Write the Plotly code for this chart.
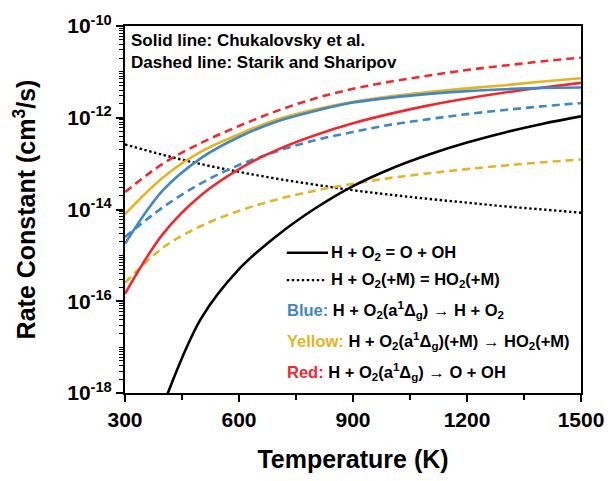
import plotly.graph_objects as go

# Temperature grid (K) for the reaction-rate curves
temperature = [300, 400, 500, 600, 700, 800, 900, 1000, 1100, 1200, 1300, 1400, 1500]
temperature_oh = [400, 500, 600, 700, 800, 900, 1000, 1100, 1200, 1300, 1400, 1500]

# Rate constants, cm^3/s
k_h_o2_o_oh = [5.25e-19, 4.17e-17, 5.01e-16, 2.69e-15, 1.05e-14, 3.24e-14,
               7.76e-14, 1.58e-13, 2.88e-13, 4.79e-13, 7.41e-13, 1.07e-12]
k_h_o2_ho2 = [2.63e-13, 1.55e-13, 9.77e-14, 6.61e-14, 4.68e-14, 3.47e-14, 2.63e-14,
              2.09e-14, 1.70e-14, 1.41e-14, 1.17e-14, 1.00e-14, 8.51e-15]

# Chukalovsky et al. (solid)
blue_solid = [1.78e-15, 2.63e-14, 1.32e-13, 3.80e-13, 8.32e-13, 1.41e-12, 2.14e-12,
              2.75e-12, 3.31e-12, 3.80e-12, 4.17e-12, 4.47e-12, 4.57e-12]
yellow_solid = [7.94e-15, 5.01e-14, 1.82e-13, 4.37e-13, 9.12e-13, 1.51e-12, 2.24e-12,
                2.95e-12, 3.63e-12, 4.37e-12, 5.13e-12, 6.17e-12, 7.24e-12]
red_solid = [1.45e-16, 2.95e-15, 2.04e-14, 7.59e-14, 2.00e-13, 4.17e-13, 7.59e-13,
             1.23e-12, 1.86e-12, 2.63e-12, 3.55e-12, 4.57e-12, 5.75e-12]

# Starik and Sharipov (dashed)
blue_dashed = [2.51e-15, 1.12e-14, 3.72e-14, 9.33e-14, 1.86e-13, 3.24e-13, 4.90e-13,
               7.08e-13, 9.33e-13, 1.20e-12, 1.48e-12, 1.78e-12, 2.09e-12]
yellow_dashed = [2.51e-16, 1.48e-15, 4.37e-15, 9.33e-15, 1.66e-14, 2.57e-14, 3.63e-14,
                 4.90e-14, 6.17e-14, 7.59e-14, 9.12e-14, 1.07e-13, 1.23e-13]
red_dashed = [2.40e-14, 1.00e-13, 2.82e-13, 6.61e-13, 1.41e-12, 2.63e-12, 4.27e-12,
              6.17e-12, 8.32e-12, 1.10e-11, 1.38e-11, 1.70e-11, 2.04e-11]

y_major = [1e-18, 1e-16, 1e-14, 1e-12, 1e-10]
y_major_text = ["10<sup>-18</sup>", "10<sup>-16</sup>", "10<sup>-14</sup>", "10<sup>-12</sup>", "10<sup>-10</sup>"]
x_major = [300, 600, 900, 1200, 1500]
x_minor = [450, 750, 1050, 1350]

BLUE = "#3f87c9"
YELLOW = "#e3b423"
RED = "#ee2a2f"
BLACK = "#000000"
FONT = "Liberation Sans"

DASH = "8px,5px"
DOT = "2.4px,2.6px"

fig = go.Figure()


def add_curve(x, y, color, dash="solid", width=2.6):
    fig.add_trace(go.Scatter(x=x, y=y, mode="lines", showlegend=False,
                             line=dict(color=color, width=width, dash=dash, shape="spline", smoothing=1.0)))


add_curve(temperature, k_h_o2_ho2, BLACK, DOT, 2.4)
add_curve(temperature, yellow_dashed, YELLOW, DASH)
add_curve(temperature, blue_dashed, BLUE, DASH)
add_curve(temperature, red_dashed, RED, DASH)
add_curve(temperature_oh, k_h_o2_o_oh, BLACK)
add_curve(temperature, red_solid, RED)
add_curve(temperature, yellow_solid, YELLOW)
add_curve(temperature, blue_solid, BLUE)

# minor log ticks for every decade
y_minor = []
for e in range(-18, -10):
    for m in range(1, 10):
        if m == 1 and e % 2 == 0:
            continue
        y_minor.append(m * 10.0 ** e)

axis_font = dict(family=FONT, size=21, color="black", weight="bold")
title_font = dict(family=FONT, size=25, color="black", weight="bold")

fig.update_layout(
    width=616, height=481,
    margin=dict(l=125, r=26, t=20, b=84),
    paper_bgcolor="white", plot_bgcolor="white",
    xaxis=dict(
        range=[300, 1500], tickmode="array", tickvals=x_major, ticktext=[str(v) for v in x_major],
        ticks="outside", ticklen=7, tickwidth=2, tickcolor="black",
        showline=True, linewidth=2, linecolor="black", mirror=True, showgrid=False, zeroline=False,
        tickfont=axis_font,
        minor=dict(tickmode="array", tickvals=x_minor, ticks="outside", ticklen=5, tickwidth=1.5,
                   tickcolor="black", showgrid=False),
        title=dict(text="Temperature (K)", font=title_font, standoff=20),
    ),
    yaxis=dict(
        type="log", range=[-18, -10], tickmode="array", tickvals=y_major, ticktext=y_major_text,
        ticks="outside", ticklen=7, tickwidth=2, tickcolor="black",
        showline=True, linewidth=2, linecolor="black", mirror=True, showgrid=False, zeroline=False,
        tickfont=axis_font,
        minor=dict(tickmode="array", tickvals=y_minor, ticks="outside", ticklen=4, tickwidth=1,
                   tickcolor="black", showgrid=False),
        title=dict(text="Rate Constant (cm<sup>3</sup>/s)", font=title_font, standoff=24),
    ),
)

note_font = dict(family=FONT, size=17, color="black", weight="bold")
legend_font = dict(family=FONT, size=16.5, color="black", weight="bold")


def px_x(px):
    return (px - 125) / (590 - 125)


def px_y(py):
    return 1 - (py - 20) / (397 - 20)


def add_text(px, py, text, font):
    fig.add_annotation(xref="paper", yref="paper", x=px_x(px), y=px_y(py), text=text,
                       showarrow=False, xanchor="left", yanchor="middle", font=font)


add_text(129, 35, "Solid line: Chukalovsky et al.", note_font)
add_text(129, 57, "Dashed line: Starik and Sharipov", note_font)

# legend samples
fig.add_shape(type="line", xref="paper", yref="paper", x0=px_x(290), x1=px_x(332),
              y0=px_y(253), y1=px_y(253), line=dict(color=BLACK, width=2.6))
fig.add_shape(type="line", xref="paper", yref="paper", x0=px_x(290), x1=px_x(329),
              y0=px_y(281), y1=px_y(281), line=dict(color=BLACK, width=2.2, dash=DOT))

add_text(333, 253, "H + O<sub>2</sub> = O + OH", legend_font)
add_text(333, 281, "H + O<sub>2</sub>(+M) = HO<sub>2</sub>(+M)", legend_font)
add_text(288, 312,
         f"<span style='color:{BLUE}'>Blue:</span> H + O<sub>2</sub>(a<sup>1</sup>Δ<sub>g</sub>) → H + O<sub>2</sub>",
         legend_font)
add_text(288, 344,
         f"<span style='color:{YELLOW}'>Yellow:</span> H + O<sub>2</sub>(a<sup>1</sup>Δ<sub>g</sub>)(+M) → HO<sub>2</sub>(+M)",
         legend_font)
add_text(288, 375,
         f"<span style='color:{RED}'>Red:</span> H + O<sub>2</sub>(a<sup>1</sup>Δ<sub>g</sub>) → O + OH",
         legend_font)

fig.write_html("out.html")
